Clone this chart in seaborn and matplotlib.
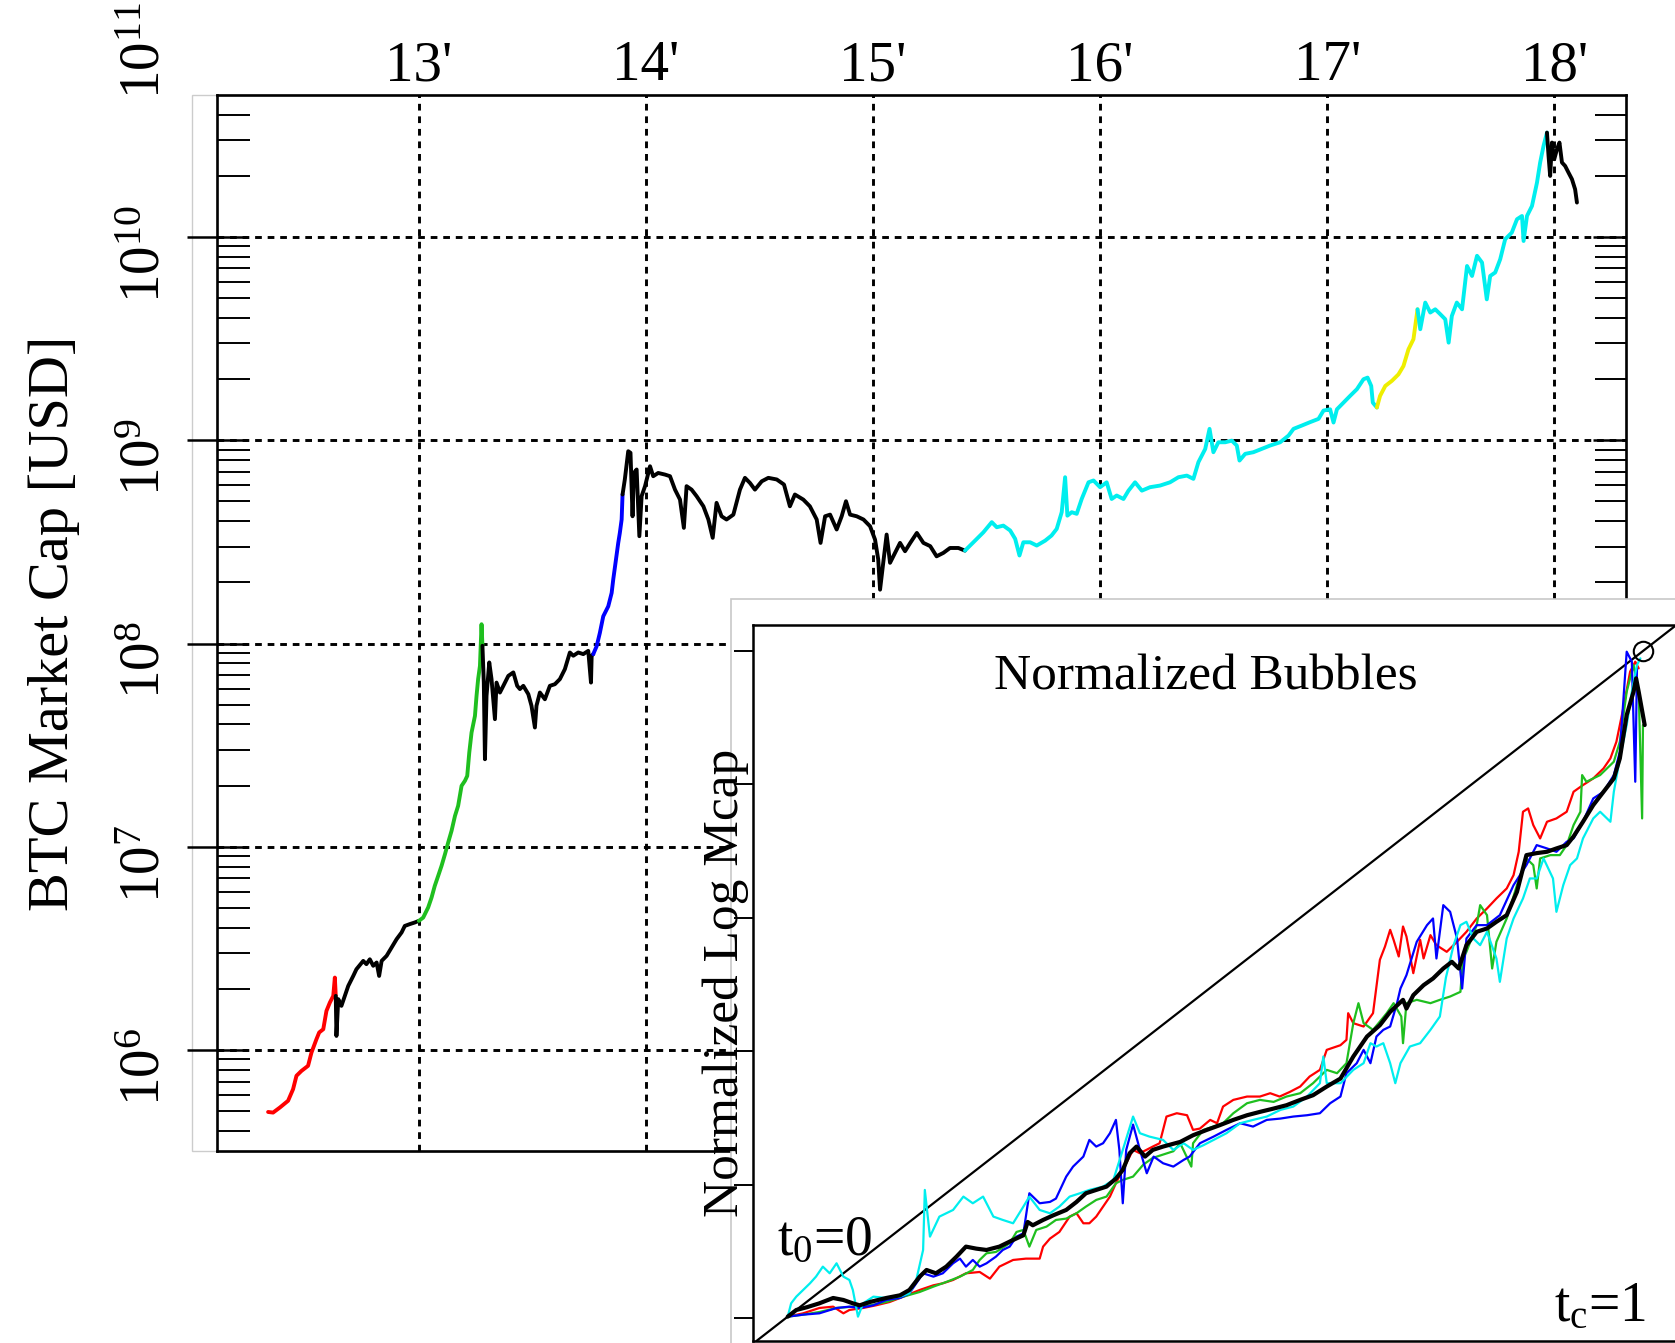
"""
BTC market cap (log) with coloured bubble phases, plus an inset of the
normalized bubbles (time rescaled to t0=0 .. tc=1).
"""

import numpy as np
import matplotlib
matplotlib.use("Agg")
import matplotlib.pyplot as plt
import matplotlib.ticker as mticker
import matplotlib.transforms as mtrans
from matplotlib.patches import Rectangle
import seaborn as sns

# ---- main series: year (20xx) and log10 of market cap [USD] ----
btc_year = [
    12.336, 12.358, 12.388, 12.424, 12.446, 12.461, 12.483, 12.512, 12.527, 12.549,
    12.561, 12.579, 12.593, 12.608, 12.623, 12.630, 12.634,
    12.637, 12.645, 12.659, 12.674, 12.689, 12.711, 12.725, 12.755, 12.769, 12.784,
    12.799, 12.814, 12.825, 12.836, 12.858, 12.880, 12.902, 12.924, 12.938, 12.960,
    12.982, 13.000,
    13.019, 13.041, 13.056, 13.070, 13.085, 13.100, 13.115, 13.129, 13.144, 13.159,
    13.173, 13.188, 13.203, 13.213, 13.222, 13.232, 13.247, 13.254, 13.261, 13.269,
    13.276, 13.280,
    13.286, 13.291, 13.298, 13.310, 13.320, 13.335, 13.342, 13.357, 13.372, 13.394,
    13.416, 13.433, 13.445, 13.460, 13.482, 13.496, 13.511, 13.518, 13.533, 13.555,
    13.577, 13.599, 13.621, 13.643, 13.665, 13.680, 13.702, 13.724, 13.746, 13.758,
    13.761, 13.768,
    13.783, 13.797, 13.812, 13.834, 13.849, 13.856, 13.868, 13.878, 13.885, 13.893,
    13.897,
    13.907, 13.922, 13.932, 13.941, 13.947, 13.959, 13.971, 13.981, 13.996, 14.018,
    14.032, 14.054, 14.084, 14.106, 14.128, 14.150, 14.167, 14.179, 14.201, 14.223,
    14.253, 14.275, 14.294, 14.311, 14.333, 14.355, 14.385, 14.414, 14.436, 14.458,
    14.480, 14.510, 14.539, 14.576, 14.608, 14.634, 14.656, 14.693, 14.722, 14.752,
    14.769, 14.789, 14.811, 14.840, 14.862, 14.881, 14.899, 14.928, 14.958, 14.987,
    15.009, 15.023, 15.031, 15.045, 15.060, 15.075, 15.097, 15.119, 15.141, 15.164,
    15.193, 15.222, 15.252, 15.280, 15.310, 15.339, 15.376, 15.405,
    15.442, 15.486, 15.523, 15.545, 15.574, 15.604, 15.626, 15.645, 15.662, 15.692,
    15.721, 15.758, 15.786, 15.809, 15.831, 15.846, 15.856, 15.875, 15.897, 15.919,
    15.949, 15.971, 16.000, 16.029, 16.051, 16.073, 16.103, 16.125, 16.154, 16.184,
    16.220, 16.264, 16.308, 16.345, 16.382, 16.411, 16.433, 16.463, 16.482, 16.499,
    16.521, 16.551, 16.580, 16.602, 16.614, 16.639, 16.675, 16.711, 16.749, 16.793,
    16.830, 16.852, 16.888, 16.925, 16.962, 16.984, 17.013, 17.028, 17.043, 17.072,
    17.101, 17.131, 17.160, 17.178, 17.194, 17.201, 17.219,
    17.233, 17.256, 17.285, 17.314, 17.336, 17.358, 17.380, 17.398,
    17.410, 17.432, 17.454, 17.476, 17.498, 17.520, 17.535, 17.549, 17.571, 17.594,
    17.616, 17.638, 17.660, 17.682, 17.703, 17.718, 17.740, 17.762, 17.784, 17.813,
    17.836, 17.858, 17.865, 17.880, 17.902, 17.924, 17.938, 17.953, 17.968,
    17.975, 17.982, 17.990, 18.000, 18.012, 18.023, 18.034, 18.048, 18.063, 18.078,
    18.092, 18.100,
]
btc_log10 = [
    5.696, 5.693, 5.718, 5.751, 5.808, 5.874, 5.898, 5.923, 5.988, 6.054,
    6.087, 6.103, 6.193, 6.234, 6.267, 6.357, 6.267,
    6.070, 6.251, 6.218, 6.267, 6.316, 6.365, 6.398, 6.439, 6.423, 6.447,
    6.415, 6.431, 6.365, 6.439, 6.464, 6.505, 6.546, 6.579, 6.611, 6.620,
    6.628, 6.636,
    6.652, 6.702, 6.751, 6.808, 6.857, 6.907, 6.964, 7.021, 7.079, 7.152,
    7.202, 7.300, 7.325, 7.349, 7.464, 7.562, 7.644, 7.743, 7.825, 7.890,
    8.095, 7.989,
    7.808, 7.431, 7.743, 7.907, 7.825, 7.628, 7.808, 7.759, 7.792, 7.841,
    7.858, 7.792, 7.776, 7.792, 7.751, 7.694, 7.587, 7.694, 7.759, 7.726,
    7.792, 7.800, 7.825, 7.874, 7.956, 7.940, 7.956, 7.948, 7.964, 7.808,
    7.940, 7.948,
    7.987, 8.052, 8.134, 8.183, 8.249, 8.315, 8.413, 8.495, 8.544, 8.610,
    8.733,
    8.807, 8.946, 8.938, 8.626, 8.839, 8.856, 8.528, 8.725, 8.774, 8.872,
    8.823, 8.839, 8.831, 8.823, 8.757, 8.708, 8.569, 8.774, 8.757, 8.725,
    8.675, 8.610, 8.520, 8.692, 8.626, 8.610, 8.634, 8.757, 8.815, 8.790,
    8.757, 8.798, 8.815, 8.807, 8.782, 8.675, 8.733, 8.708, 8.675, 8.610,
    8.495, 8.626, 8.634, 8.561, 8.626, 8.700, 8.634, 8.626, 8.610, 8.577,
    8.511, 8.413, 8.265, 8.397, 8.536, 8.397, 8.446, 8.495, 8.454, 8.495,
    8.544, 8.495, 8.479, 8.429, 8.446, 8.470, 8.470, 8.457,
    8.498, 8.547, 8.597, 8.572, 8.580, 8.556, 8.515, 8.433, 8.498, 8.498,
    8.482, 8.506, 8.531, 8.564, 8.646, 8.818, 8.629, 8.646, 8.638, 8.711,
    8.793, 8.802, 8.769, 8.793, 8.711, 8.728, 8.711, 8.752, 8.793, 8.752,
    8.769, 8.777, 8.793, 8.818, 8.826, 8.810, 8.892, 8.957, 9.056, 8.941,
    8.990, 8.990, 8.998, 8.974, 8.900, 8.933, 8.941, 8.957, 8.974, 8.990,
    9.023, 9.056, 9.072, 9.089, 9.105, 9.146, 9.152, 9.087, 9.152, 9.185,
    9.218, 9.251, 9.300, 9.308, 9.267, 9.185, 9.161,
    9.218, 9.267, 9.292, 9.324, 9.365, 9.447, 9.497, 9.644,
    9.546, 9.677, 9.628, 9.644, 9.620, 9.595, 9.480, 9.611, 9.677, 9.644,
    9.857, 9.808, 9.907, 9.874, 9.693, 9.808, 9.825, 9.890, 9.989, 10.021,
    10.087, 10.103, 9.980, 10.103, 10.152, 10.267, 10.366, 10.448, 10.513,
    10.398, 10.300, 10.464, 10.382, 10.431, 10.464, 10.366, 10.349, 10.316, 10.284,
    10.234, 10.169,
]
# colour of each stretch and the year where it ends
seg_colors = ["#ff0000", "black", "#1fbf1f", "black", "#0000ff",
              "black", "#00eeee", "#eeee00", "#00eeee", "black"]
seg_ends = [12.634, 13.000, 13.280, 13.768, 13.897,
            15.405, 17.219, 17.398, 17.968, 18.100]

year_ticks = [13, 14, 15, 16, 17, 18]
year_labels = ["13'", "14'", "15'", "16'", "17'", "18'"]
decade_ticks = [1e6, 1e7, 1e8, 1e9, 1e10, 1e11]

# ---- inset: normalized bubbles (t in [0,1], normalized log mcap) ----
bub_red_t = [0.002, 0.020, 0.039, 0.055, 0.067, 0.074, 0.090, 0.105, 0.121, 0.137,
             0.156, 0.172, 0.183, 0.195, 0.210, 0.226, 0.238, 0.249, 0.265, 0.280,
             0.296, 0.300, 0.308, 0.319, 0.331, 0.339, 0.347, 0.354, 0.362, 0.370,
             0.378, 0.385, 0.389, 0.397, 0.405, 0.413, 0.428, 0.436, 0.444, 0.456,
             0.468, 0.475, 0.483, 0.495, 0.503, 0.510, 0.522, 0.538, 0.553, 0.565,
             0.576, 0.588, 0.600, 0.611, 0.623, 0.631, 0.647, 0.654, 0.656, 0.662,
             0.674, 0.685, 0.693, 0.699, 0.705, 0.709, 0.715, 0.720, 0.724, 0.732,
             0.740, 0.744, 0.752, 0.759, 0.771, 0.783, 0.794, 0.806, 0.818, 0.829,
             0.841, 0.849, 0.855, 0.860, 0.866, 0.872, 0.880, 0.888, 0.899, 0.911,
             0.919, 0.930, 0.942, 0.954, 0.962, 0.969, 0.977, 0.985, 0.991, 0.995]
bub_red_y = [0.002, 0.007, 0.015, 0.017, 0.007, 0.012, 0.015, 0.019, 0.024, 0.032,
             0.042, 0.049, 0.052, 0.057, 0.067, 0.069, 0.059, 0.077, 0.087, 0.089,
             0.089, 0.107, 0.119, 0.129, 0.152, 0.157, 0.142, 0.142, 0.152, 0.167,
             0.182, 0.202, 0.212, 0.232, 0.252, 0.247, 0.257, 0.262, 0.302, 0.307,
             0.304, 0.282, 0.284, 0.297, 0.292, 0.317, 0.327, 0.332, 0.332, 0.337,
             0.332, 0.339, 0.347, 0.362, 0.372, 0.402, 0.409, 0.417, 0.457, 0.442,
             0.437, 0.457, 0.537, 0.557, 0.582, 0.567, 0.542, 0.587, 0.572, 0.517,
             0.567, 0.539, 0.574, 0.559, 0.549, 0.564, 0.579, 0.599, 0.614, 0.629,
             0.644, 0.664, 0.699, 0.759, 0.764, 0.739, 0.719, 0.744, 0.749, 0.759,
             0.789, 0.799, 0.809, 0.824, 0.839, 0.864, 0.914, 0.969, 0.984, 0.974]

bub_green_t = [0.002, 0.020, 0.039, 0.059, 0.078, 0.098, 0.117, 0.137, 0.156, 0.172,
               0.187, 0.203, 0.218, 0.226, 0.234, 0.245, 0.261, 0.269, 0.277, 0.284,
               0.292, 0.304, 0.315, 0.327, 0.339, 0.350, 0.362, 0.374, 0.385, 0.393,
               0.405, 0.417, 0.428, 0.440, 0.452, 0.460, 0.473, 0.475, 0.487, 0.499,
               0.510, 0.522, 0.538, 0.553, 0.569, 0.584, 0.600, 0.615, 0.631, 0.643,
               0.654, 0.662, 0.668, 0.674, 0.685, 0.701, 0.709, 0.718, 0.720, 0.724,
               0.736, 0.752, 0.763, 0.775, 0.787, 0.790, 0.794, 0.806, 0.810, 0.818,
               0.824, 0.829, 0.841, 0.853, 0.864, 0.872, 0.876, 0.880, 0.892, 0.903,
               0.911, 0.919, 0.927, 0.929, 0.934, 0.942, 0.950, 0.958, 0.966, 0.973,
               0.981, 0.989, 0.995, 0.999, 1.000]
bub_green_y = [0.002, 0.005, 0.009, 0.015, 0.017, 0.019, 0.024, 0.032, 0.039, 0.047,
               0.054, 0.062, 0.072, 0.087, 0.097, 0.099, 0.112, 0.129, 0.132, 0.107,
               0.132, 0.137, 0.147, 0.149, 0.157, 0.167, 0.177, 0.182, 0.202, 0.207,
               0.212, 0.230, 0.240, 0.245, 0.250, 0.262, 0.227, 0.262, 0.282, 0.287,
               0.292, 0.307, 0.322, 0.327, 0.324, 0.332, 0.337, 0.352, 0.372, 0.367,
               0.382, 0.442, 0.472, 0.442, 0.432, 0.457, 0.472, 0.452, 0.412, 0.472,
               0.477, 0.472, 0.477, 0.482, 0.489, 0.539, 0.549, 0.589, 0.619, 0.604,
               0.524, 0.564, 0.599, 0.649, 0.689, 0.679, 0.644, 0.689, 0.694, 0.694,
               0.709, 0.739, 0.759, 0.814, 0.804, 0.809, 0.814, 0.824, 0.834, 0.864,
               0.939, 0.979, 0.939, 0.749, 0.889]

bub_blue_t = [0.002, 0.020, 0.039, 0.059, 0.074, 0.086, 0.102, 0.117, 0.133, 0.144,
              0.152, 0.160, 0.172, 0.183, 0.195, 0.203, 0.210, 0.218, 0.226, 0.234,
              0.245, 0.253, 0.261, 0.269, 0.277, 0.284, 0.296, 0.308, 0.315, 0.327,
              0.335, 0.347, 0.354, 0.362, 0.370, 0.378, 0.385, 0.389, 0.393, 0.397,
              0.405, 0.413, 0.421, 0.429, 0.440, 0.452, 0.464, 0.471, 0.483, 0.499,
              0.514, 0.530, 0.545, 0.561, 0.577, 0.592, 0.608, 0.623, 0.635, 0.647,
              0.654, 0.666, 0.674, 0.682, 0.689, 0.697, 0.705, 0.713, 0.717, 0.724,
              0.736, 0.748, 0.755, 0.759, 0.767, 0.775, 0.783, 0.789, 0.794, 0.806,
              0.818, 0.833, 0.849, 0.864, 0.876, 0.888, 0.899, 0.911, 0.919, 0.930,
              0.942, 0.954, 0.966, 0.973, 0.981, 0.987, 0.991, 0.993]
bub_blue_y = [0.002, 0.005, 0.007, 0.015, 0.017, 0.015, 0.019, 0.027, 0.030, 0.037,
              0.052, 0.067, 0.062, 0.067, 0.082, 0.089, 0.077, 0.087, 0.077, 0.082,
              0.092, 0.102, 0.107, 0.122, 0.127, 0.187, 0.172, 0.174, 0.179, 0.212,
              0.227, 0.242, 0.267, 0.257, 0.262, 0.277, 0.297, 0.252, 0.172, 0.252,
              0.290, 0.252, 0.217, 0.242, 0.232, 0.227, 0.237, 0.242, 0.262, 0.272,
              0.282, 0.292, 0.287, 0.297, 0.299, 0.302, 0.304, 0.307, 0.322, 0.332,
              0.367, 0.382, 0.402, 0.382, 0.422, 0.432, 0.437, 0.472, 0.494, 0.514,
              0.564, 0.589, 0.599, 0.539, 0.619, 0.609, 0.569, 0.494, 0.569, 0.589,
              0.589, 0.604, 0.649, 0.679, 0.709, 0.704, 0.699, 0.714, 0.719, 0.744,
              0.779, 0.789, 0.814, 0.849, 0.999, 0.984, 0.804, 0.974]

bub_cyan_t = [0.002, 0.006, 0.012, 0.020, 0.028, 0.035, 0.043, 0.051, 0.059, 0.067,
              0.074, 0.078, 0.084, 0.090, 0.102, 0.117, 0.133, 0.144, 0.152, 0.160,
              0.162, 0.168, 0.179, 0.195, 0.207, 0.218, 0.230, 0.242, 0.253, 0.265,
              0.277, 0.284, 0.296, 0.308, 0.319, 0.331, 0.343, 0.354, 0.370, 0.382,
              0.393, 0.405, 0.413, 0.424, 0.440, 0.452, 0.464, 0.475, 0.487, 0.499,
              0.514, 0.530, 0.545, 0.561, 0.577, 0.592, 0.608, 0.623, 0.627, 0.631,
              0.647, 0.662, 0.674, 0.682, 0.689, 0.697, 0.705, 0.711, 0.717, 0.728,
              0.740, 0.752, 0.763, 0.770, 0.779, 0.787, 0.794, 0.802, 0.810, 0.818,
              0.829, 0.833, 0.841, 0.849, 0.860, 0.868, 0.876, 0.884, 0.895, 0.899,
              0.907, 0.915, 0.923, 0.930, 0.942, 0.950, 0.962, 0.966, 0.973, 0.981,
              0.987, 0.993, 0.997]
bub_cyan_y = [0.002, 0.022, 0.032, 0.042, 0.052, 0.062, 0.077, 0.067, 0.082, 0.062,
              0.057, 0.042, 0.002, 0.022, 0.032, 0.030, 0.032, 0.037, 0.057, 0.102,
              0.192, 0.122, 0.152, 0.162, 0.182, 0.172, 0.182, 0.152, 0.147, 0.142,
              0.167, 0.182, 0.162, 0.157, 0.167, 0.182, 0.187, 0.192, 0.197, 0.207,
              0.252, 0.302, 0.277, 0.272, 0.267, 0.252, 0.262, 0.252, 0.259, 0.267,
              0.277, 0.292, 0.297, 0.302, 0.312, 0.317, 0.332, 0.352, 0.392, 0.352,
              0.352, 0.372, 0.382, 0.412, 0.407, 0.412, 0.382, 0.352, 0.382, 0.407,
              0.412, 0.432, 0.452, 0.510, 0.559, 0.589, 0.594, 0.569, 0.559, 0.579,
              0.539, 0.504, 0.569, 0.599, 0.629, 0.659, 0.659, 0.689, 0.659, 0.609,
              0.649, 0.679, 0.689, 0.719, 0.749, 0.759, 0.744, 0.789, 0.839, 0.889,
              0.939, 0.979, 0.989]

bub_mean_t = [0.002, 0.012, 0.024, 0.039, 0.055, 0.067, 0.078, 0.086, 0.098, 0.117,
              0.133, 0.144, 0.156, 0.164, 0.175, 0.187, 0.199, 0.210, 0.222, 0.234,
              0.249, 0.265, 0.277, 0.282, 0.288, 0.300, 0.312, 0.327, 0.339, 0.350,
              0.362, 0.374, 0.385, 0.393, 0.401, 0.409, 0.419, 0.428, 0.440, 0.460,
              0.475, 0.491, 0.506, 0.522, 0.538, 0.553, 0.569, 0.584, 0.600, 0.615,
              0.631, 0.647, 0.662, 0.678, 0.693, 0.705, 0.720, 0.724, 0.732, 0.744,
              0.755, 0.767, 0.777, 0.785, 0.794, 0.806, 0.818, 0.829, 0.841, 0.853,
              0.864, 0.876, 0.888, 0.899, 0.911, 0.919, 0.930, 0.942, 0.954, 0.966,
              0.973, 0.981, 0.989, 0.992, 0.995, 1.002]
bub_mean_y = [0.002, 0.012, 0.016, 0.022, 0.030, 0.027, 0.022, 0.019, 0.024, 0.030,
              0.034, 0.042, 0.062, 0.072, 0.067, 0.077, 0.092, 0.107, 0.104, 0.102,
              0.107, 0.117, 0.124, 0.144, 0.139, 0.147, 0.154, 0.162, 0.174, 0.187,
              0.192, 0.197, 0.209, 0.222, 0.247, 0.257, 0.242, 0.252, 0.257, 0.264,
              0.274, 0.282, 0.289, 0.297, 0.304, 0.309, 0.314, 0.319, 0.327, 0.334,
              0.347, 0.359, 0.392, 0.422, 0.439, 0.459, 0.477, 0.464, 0.484, 0.499,
              0.509, 0.524, 0.534, 0.524, 0.559, 0.579, 0.584, 0.594, 0.604, 0.639,
              0.694, 0.697, 0.699, 0.704, 0.709, 0.722, 0.744, 0.769, 0.789, 0.809,
              0.839, 0.904, 0.939, 0.959, 0.939, 0.889]

sns.set_theme(style="white")
plt.rcParams["font.family"] = ["Liberation Serif", "DejaVu Serif"]
plt.rcParams["mathtext.fontset"] = "custom"
plt.rcParams["mathtext.rm"] = "Liberation Serif"
plt.rcParams["mathtext.it"] = "Liberation Serif:italic"
for key in ["text.color", "axes.labelcolor", "xtick.color", "ytick.color"]:
    plt.rcParams[key] = "black"

fig = plt.figure(figsize=(16.75, 13.43), dpi=100)
fig.patch.set_facecolor("white")

# grey frame left of the main panel (pasted-figure border)
fig.add_artist(Rectangle((0.1146, 0.1430), 0.8561, 0.7863, transform=fig.transFigure,
                         fill=False, edgecolor="#cccccc", lw=1.0, zorder=-1))

ax = fig.add_axes([0.12955, 0.14296, 0.84119, 0.78630])
ax.set_yscale("log")

yr = np.array(btc_year)
lg = np.array(btc_log10)
start = yr[0]
for col, end in zip(seg_colors, seg_ends):
    m = (yr >= start) & (yr <= end)
    sns.lineplot(x=yr[m], y=10 ** lg[m], color=col, lw=2.8, ax=ax,
                 sort=False, estimator=None, zorder=3)
    start = end

ax.set_xlim(12.111, 18.316)
ax.set_ylim(10 ** 5.504, 10 ** 10.698)

ax.set_xticks(year_ticks)
ax.set_xticklabels(year_labels)
ax.xaxis.tick_top()
ax.tick_params(axis="x", length=0, pad=2, labelsize=41)

fmt = mticker.LogFormatterMathtext()
ax.yaxis.set_major_locator(mticker.LogLocator(base=10, numticks=20))
ax.yaxis.set_minor_locator(mticker.LogLocator(base=10, subs=np.arange(2, 10), numticks=20))
ax.yaxis.set_minor_formatter(mticker.NullFormatter())
ax.tick_params(axis="y", which="major", direction="inout", length=43, width=1.8,
               labelleft=False, left=True, right=False)
ax.tick_params(axis="y", which="minor", direction="in", length=24, width=1.4,
               left=True, right=False)

# decade labels, rotated, sitting a little below their tick (as in the original)
shift = mtrans.ScaledTranslation(0, -0.17, fig.dpi_scale_trans)
for d in decade_ticks:
    ax.text(-0.032, d, fmt(d), transform=ax.get_yaxis_transform() + shift,
            rotation=90, ha="right", va="center", fontsize=41, clip_on=False)

ax.grid(True, which="major", color="black", lw=2.1, linestyle=(0, (2.3, 2.0)))
for s in ax.spines.values():
    s.set_linewidth(1.9)
    s.set_color("black")

ax.set_ylabel("BTC Market Cap [USD]", fontsize=42)
ax.yaxis.set_label_coords(-0.097, 0.5)
ax.set_xlabel("")

# right-hand ticks point inwards only
ax_r = ax.twinx()
ax_r.set_yscale("log")
ax_r.set_ylim(ax.get_ylim())
ax_r.yaxis.set_major_locator(mticker.LogLocator(base=10, numticks=20))
ax_r.yaxis.set_minor_locator(mticker.LogLocator(base=10, subs=np.arange(2, 10), numticks=20))
ax_r.tick_params(axis="y", which="major", direction="in", length=24, width=1.8,
                 labelright=False, right=True)
ax_r.tick_params(axis="y", which="minor", direction="in", length=22, width=1.4,
                 labelright=False, right=True)
for s in ax_r.spines.values():
    s.set_visible(False)

# white sheet holding the inset
fig.add_artist(Rectangle((0.4364, -0.01), 0.6, 0.564, transform=fig.transFigure,
                         facecolor="white", edgecolor="#c8c8c8", lw=1.2, zorder=1))

ins = fig.add_axes([0.44955, 0.00149, 0.55164, 0.53313], zorder=2)
ins.set_facecolor("white")
ins.axline((0, 0), (1, 1), color="black", lw=1.6, zorder=1)
for t, y, col in [(bub_red_t, bub_red_y, "#ff0000"),
                  (bub_green_t, bub_green_y, "#1fbf1f"),
                  (bub_blue_t, bub_blue_y, "#0000ff"),
                  (bub_cyan_t, bub_cyan_y, "#00eeee")]:
    sns.lineplot(x=t, y=y, color=col, lw=1.6, ax=ins, sort=False, estimator=None, zorder=2)
sns.lineplot(x=bub_mean_t, y=bub_mean_y, color="black", lw=3.0, ax=ins,
             sort=False, estimator=None, zorder=3)
ins.plot([1.0], [1.0], marker="o", ms=14, mfc="none", mec="black", mew=1.5, zorder=4)

ins.set_xlim(-0.0385, 1.0397)
ins.set_ylim(-0.0345, 1.039)
ins.set_xticks([])
ins.set_yticks([0, 0.2, 0.4, 0.6, 0.8, 1.0])
ins.set_yticklabels([])
ins.tick_params(axis="y", direction="out", length=14, width=1.4, left=True)
for s in ins.spines.values():
    s.set_linewidth(1.8)
    s.set_color("black")
ins.set_xlabel("")
ins.set_ylabel("Normalized Log Mcap", fontsize=37)
ins.yaxis.set_label_coords(-0.004, 0.5)

ins.text(0.49, 0.96, "Normalized Bubbles", fontsize=37, ha="center", va="center")
ins.text(-0.01, 0.094, r"t$_0$=0", fontsize=40, ha="left", va="baseline")
ins.text(0.896, -0.005, r"t$_\mathrm{c}$=1", fontsize=40, ha="left", va="baseline")

fig.savefig("out.png", dpi=100, facecolor="white")
